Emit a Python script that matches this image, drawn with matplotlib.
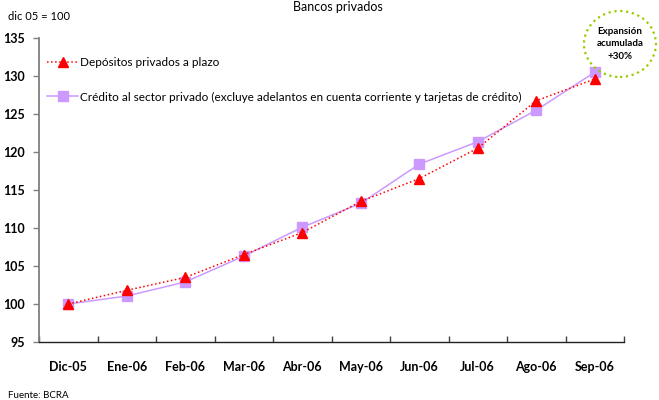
import matplotlib
matplotlib.use("Agg")
import matplotlib.pyplot as plt
from matplotlib.patches import Ellipse

plt.rcParams['font.family'] = ['Lato', 'DejaVu Sans']

meses = ["Dic-05", "Ene-06", "Feb-06", "Mar-06", "Abr-06",
         "May-06", "Jun-06", "Jul-06", "Ago-06", "Sep-06"]
depositos = [100.0, 101.8, 103.5, 106.5, 109.4, 113.5, 116.5, 120.5, 126.75, 129.6]
credito = [100.0, 101.05, 102.9, 106.3, 110.1, 113.25, 118.4, 121.35, 125.5, 130.5]
y_ticks = [95, 100, 105, 110, 115, 120, 125, 130, 135]

W, H = 659, 400
fig = plt.figure(figsize=(W / 100, H / 100), dpi=100)
ax = fig.add_axes([39 / W, 1 - 342 / H, (624 - 39) / W, (342 - 38) / H])

x = list(range(len(meses)))
ax.plot(x, depositos, linestyle=':', color='#FF0000', lw=1.1,
        marker='^', markersize=6.5, markerfacecolor='#FF0000',
        markeredgecolor='#FF0000', label='Depósitos privados a plazo', zorder=3)
ax.plot(x, credito, linestyle='-', color='#CC99FF', lw=1.1,
        marker='s', markersize=6.5, markerfacecolor='#CC99FF',
        markeredgecolor='#CC99FF',
        label='Crédito al sector privado (excluye adelantos en cuenta corriente y tarjetas de crédito)',
        zorder=2)

ax.set_xlim(-0.5, len(meses) - 0.5)
ax.set_ylim(95, 135)
ax.set_yticks(y_ticks)
ax.set_yticklabels([str(v) for v in y_ticks], fontweight='bold', fontsize=9)
ax.set_xticks(x)
ax.set_xticklabels(meses, fontweight='bold', fontsize=9)
ax.tick_params(axis='x', length=0, pad=14)
ax.set_xticks([i - 0.5 for i in range(len(meses) + 1)], minor=True)
ax.tick_params(axis='x', which='minor', direction='in', length=4, width=1, color='#404040')
ax.tick_params(axis='y', direction='out', length=4, width=1, color='#808080', pad=6)

for s in ('top', 'right'):
    ax.spines[s].set_visible(False)
ax.spines['left'].set_color('#808080')
ax.spines['left'].set_linewidth(1.3)
ax.spines['bottom'].set_color('#202020')
ax.spines['bottom'].set_linewidth(1.0)

leg = ax.legend(loc='upper left', bbox_to_anchor=(0.0, 0.965), frameon=False,
                fontsize=8.5, handlelength=2.6, labelspacing=2.0,
                handletextpad=0.2, borderaxespad=0.3)

fig.text(338 / W, 1 - 1 / H, "Bancos privados", ha='center', va='top', fontsize=9)
fig.text(8 / W, 1 - 17 / H, "dic 05 = 100", ha='left', va='center', fontsize=8)
fig.text(8 / W, 1 - 395 / H, "Fuente: BCRA", ha='left', va='center', fontsize=7)

ell = Ellipse((620 / W, 1 - 44 / H), 72 / W, 66 / H, transform=fig.transFigure,
              fill=False, edgecolor='#99CC00', linestyle=':', lw=1.6)
fig.patches.append(ell)
fig.text(620 / W, 1 - 44 / H, "Expansión\nacumulada\n+30%", ha='center', va='center',
         fontsize=7, fontweight='bold', linespacing=1.5)

fig.savefig("out.png", dpi=100)
